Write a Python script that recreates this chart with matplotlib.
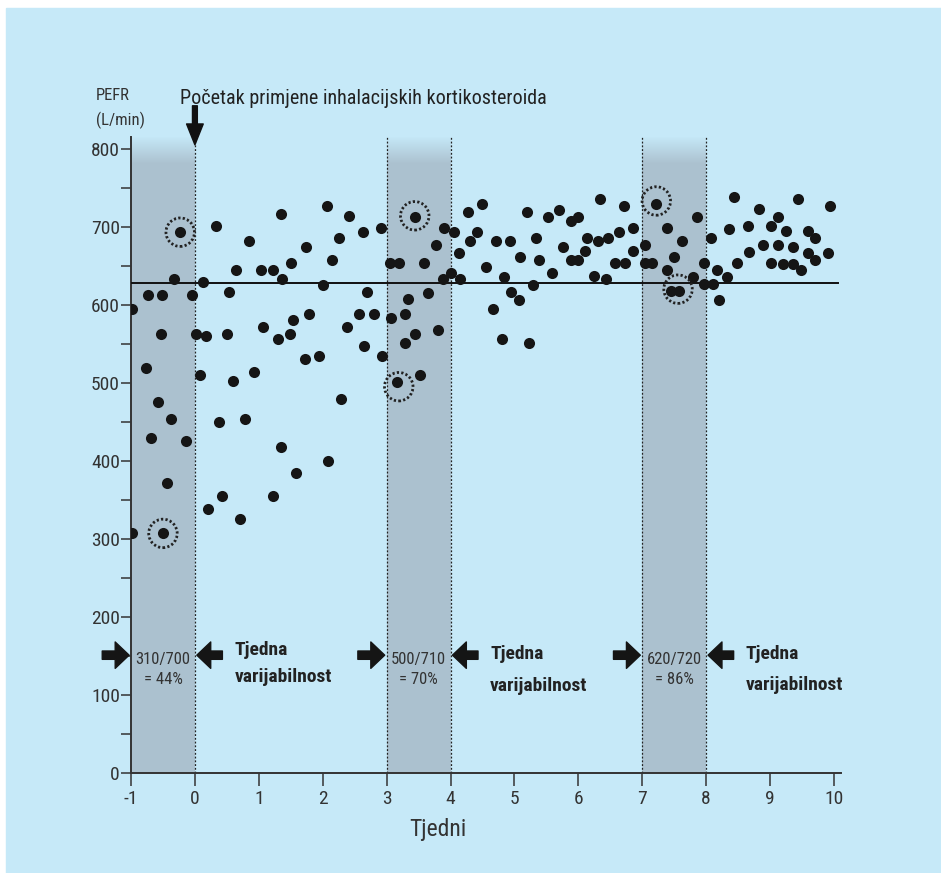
import matplotlib
matplotlib.use("Agg")
import matplotlib.pyplot as plt
import numpy as np
from matplotlib import font_manager
from matplotlib.colors import to_rgb

# --- data ---
weeks = [-0.98, -0.98, -0.77, -0.73, -0.69, -0.57, -0.52, -0.53, -0.50, -0.44,
         -0.37, -0.32, -0.23, -0.14, -0.05, 0.01, 0.08, 0.13, 0.17, 0.21,
         0.33, 0.37, 0.42, 0.51, 0.53, 0.60, 0.65, 0.71, 0.79, 0.84,
         0.93, 1.04, 1.07, 1.22, 1.22, 1.30, 1.35, 1.36, 1.35, 1.49,
         1.50, 1.54, 1.58, 1.72, 1.74, 1.79, 1.94, 2.01, 2.06, 2.08,
         2.15, 2.26, 2.28, 2.38, 2.41, 2.57, 2.63, 2.64, 2.69, 2.80,
         2.91, 2.93, 3.05, 3.07, 3.16, 3.20,
         3.28, 3.29, 3.33, 3.44, 3.45, 3.52, 3.59, 3.65, 3.77, 3.81,
         3.88, 3.90, 4.01, 4.06, 4.14, 4.15, 4.28, 4.30, 4.42, 4.49,
         4.55, 4.66, 4.71, 4.81, 4.83, 4.93, 4.95, 5.07, 5.09, 5.20,
         5.23, 5.29, 5.34, 5.38, 5.53, 5.58, 5.70, 5.76, 5.88, 5.88,
         6.00, 6.00, 6.11, 6.13, 6.24, 6.30, 6.34, 6.44, 6.46, 6.57,
         6.64, 6.71, 6.73, 6.85, 6.86, 7.04, 7.04, 7.15, 7.22, 7.39,
         7.39, 7.50, 7.45,
         7.58, 7.62, 7.80, 7.85, 7.97, 7.97, 8.08, 8.10, 8.17, 8.20,
         8.32, 8.35, 8.44, 8.48, 8.66, 8.67, 8.82, 8.89, 9.01, 9.01,
         9.13, 9.13, 9.20, 9.25, 9.36, 9.36, 9.43, 9.48, 9.59, 9.59,
         9.71, 9.71, 9.90, 9.94]
pefr = [595, 307, 519, 612, 429, 475, 612, 563, 307, 371,
        454, 633, 693, 425, 612, 563, 510, 629, 560, 338,
        701, 450, 355, 563, 616, 502, 645, 325, 454, 682,
        514, 645, 571, 645, 355, 556, 716, 633, 418, 563,
        653, 580, 384, 531, 674, 588, 535, 625, 726, 400,
        658, 685, 479, 571, 714, 588, 693, 547, 616, 588,
        698, 535, 653, 583, 501, 653,
        588, 551, 608, 713, 563, 510, 653, 615, 677, 568,
        633, 698, 641, 693, 666, 633, 719, 682, 693, 729,
        649, 595, 682, 556, 635, 682, 616, 606, 661, 719,
        551, 625, 685, 657, 713, 641, 722, 674, 707, 657,
        713, 657, 669, 685, 637, 682, 735, 633, 685, 653,
        693, 726, 653, 698, 669, 677, 653, 653, 729, 698,
        645, 661, 618,
        618, 682, 635, 712, 653, 626, 685, 626, 645, 606,
        635, 697, 738, 653, 701, 668, 723, 677, 701, 654,
        713, 677, 652, 694, 674, 652, 735, 645, 694, 666,
        685, 657, 666, 727]

circled_weeks = [-0.50, -0.23, 3.19, 3.44, 7.22, 7.56]
circled_pefr = [307, 693, 495, 714, 733, 620]

reference_pefr = 628
bands = [(-1, 0), (3, 4), (7, 8)]
band_ratios = ["310/700\n= 44%", "500/710\n= 70%", "620/720\n= 86%"]
title = "Početak primjene inhalacijskih kortikosteroida"

BG = "#c6e9f8"
BAND = "#abc1cf"
INK = "#333333"

# the original uses a condensed sans; pick the first one that is installed
names = {f.name for f in font_manager.fontManager.ttflist}
narrow = next((n for n in ["Roboto Condensed", "Archivo Narrow", "Sofia Sans Condensed",
                           "Asap Condensed", "Liberation Sans Narrow"] if n in names),
              "DejaVu Sans")
plt.rcParams["font.family"] = [narrow, "DejaVu Sans"]
plt.rcParams["axes.unicode_minus"] = False

fig = plt.figure(figsize=(9.41, 8.73), dpi=100, facecolor="white")
fig.patches.append(plt.Rectangle((6 / 941, 0), 1, 1 - 8 / 873, transform=fig.transFigure,
                                 color=BG, zorder=-5))
ax = fig.add_axes([131 / 941, 100 / 873, 710 / 941, 636 / 873])
ax.set_facecolor("none")

# shaded weekly bands, fading out at the top
top_solid, top = 780, 815
n = 60
c0, c1 = np.array(to_rgb(BAND)), np.array(to_rgb(BG))
grad = np.array([c0 + (c1 - c0) * i / (n - 1) for i in range(n)])[::-1].reshape(n, 1, 3)
for x0, x1 in bands:
    ax.axvspan(x0, x1, ymin=0, ymax=top_solid / 815, color=BAND, lw=0, zorder=1)
    ax.imshow(grad, extent=(x0, x1, top_solid, top), aspect="auto", zorder=1,
              interpolation="bilinear")
    for xv in (x0, x1):
        if xv > -1:
            ax.plot([xv, xv], [0, top], ls=(0, (1.5, 1.5)), color="#222222", lw=0.9, zorder=2)
ax.set_xlim(-1, 10.11)
ax.set_ylim(0, 815)

ax.plot([-1, 10.06], [reference_pefr] * 2, color="#111111", lw=1.4, zorder=3)
ax.scatter(weeks, pefr, s=64, color="#151515", zorder=4, lw=0)
ax.scatter(circled_weeks, circled_pefr, s=420, facecolors="none", edgecolors="#222222",
           linewidths=2.0, linestyles=(0, (0.8, 0.8)), zorder=4)

# axes styling
for side in ("top", "right"):
    ax.spines[side].set_visible(False)
for side in ("left", "bottom"):
    ax.spines[side].set_color(INK)
    ax.spines[side].set_linewidth(1.4)
ax.set_xticks(range(-1, 11))
ax.set_yticks(range(0, 801, 100))
ax.set_yticks(range(50, 801, 100), minor=True)
ax.tick_params(axis="x", length=9, width=1.1, color=INK, labelcolor=INK, labelsize=14, pad=3)
ax.tick_params(axis="y", which="both", length=7, width=1.1, color=INK, labelcolor=INK,
               labelsize=14, pad=1)
ax.text(3.8, -72, "Tjedni", ha="center", va="center", fontsize=17, color=INK, clip_on=False)

fig.text(96 / 941, 1 - 96 / 873, "PEFR", fontsize=12, color=INK, va="center")
fig.text(96 / 941, 1 - 120 / 873, "(L/min)", fontsize=12, color=INK, va="center")
fig.text(180 / 941, 1 - 98 / 873, title, fontsize=14.5, color="#222222", va="center")
ax.annotate("", xy=(0, 805), xytext=(0, 855), annotation_clip=False,
            arrowprops=dict(arrowstyle="simple,head_length=1.5,head_width=1.2,tail_width=0.35",
                            color="#111111", shrinkA=0, shrinkB=0))

# weekly variability annotations
arrow_style = "simple,head_length=1.0,head_width=1.9,tail_width=0.6"
note_y = [(158, 123), (153, 111), (153, 113)]
for (x0, x1), ratio, ny in zip(bands, band_ratios, note_y):
    ax.annotate("", xy=(x0 - 0.03, 151), xytext=(x0 - 0.45, 151), annotation_clip=False,
                arrowprops=dict(arrowstyle=arrow_style, color="#151515", shrinkA=0, shrinkB=0))
    ax.annotate("", xy=(x1 + 0.03, 151), xytext=(x1 + 0.43, 151), annotation_clip=False,
                arrowprops=dict(arrowstyle=arrow_style, color="#151515", shrinkA=0, shrinkB=0))
    ax.text((x0 + x1) / 2, 133, ratio, ha="center", va="center", fontsize=12, color=INK,
            linespacing=1.45, zorder=5)
    ax.text(x1 + 0.62, ny[0], "Tjedna", ha="left", va="center", fontsize=14,
            fontweight="bold", color="#222222")
    ax.text(x1 + 0.62, ny[1], "varijabilnost", ha="left", va="center", fontsize=14,
            fontweight="bold", color="#222222")

fig.savefig("out.png", dpi=100, facecolor="white")
